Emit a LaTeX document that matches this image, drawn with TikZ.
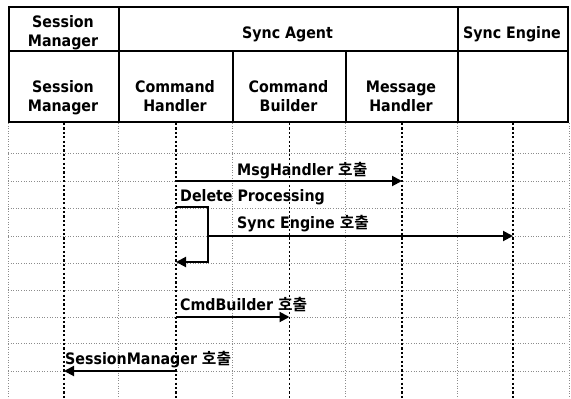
\documentclass[tikz,border=0pt]{standalone}
\usepackage{fontspec}
\setmainfont{DejaVu Sans Condensed}
\newfontfamily\kofont{Noto Sans CJK KR}[BoldFont={* Bold}]
\newcommand{\ko}[1]{{\kofont\bfseries #1}}
\usetikzlibrary{arrows.meta}

\begin{document}
\begin{tikzpicture}[x=1pt,y=-1pt,
  every node/.style={font=\fontsize{15.8}{19}\bfseries\selectfont, inner sep=0pt},
  cell/.style={draw=black, line width=2pt, anchor=north west, inner sep=0pt},
  lifeline/.style={black, line width=1.8pt, dash pattern=on 2.2pt off 2.2pt},
  gridline/.style={black!45, line width=0.5pt, dash pattern=on 0.8pt off 1.8pt},
  msg/.style={black, line width=2pt, -{Triangle[length=10pt,width=10pt]}},
  lbl/.style={anchor=base west}]
\useasboundingbox (0,0) rectangle (571,399);

% header, first row: groups
\node[cell, minimum width=110pt, minimum height=44pt] (hSM) at (8,6) {};
\node[cell, minimum width=339pt, minimum height=44pt] (hSA) at (118,6) {};
\node[cell, minimum width=110pt, minimum height=44pt] (hSE) at (457,6) {};

% header, second row: components
\node[cell, minimum width=110pt, minimum height=71pt] (cSM) at (8,50) {};
\node[cell, minimum width=114pt, minimum height=71pt] (cCH) at (118,50) {};
\node[cell, minimum width=113pt, minimum height=71pt] (cCB) at (232,50) {};
\node[cell, minimum width=112pt, minimum height=71pt] (cMH) at (345,50) {};
\node[cell, minimum width=110pt, minimum height=71pt] (cSE) at (457,50) {};

% header texts
\node[align=center] (tSM1) at (63,33.5) {Session\strut\\Manager\strut};
\node[anchor=base] (tSA) at (287.5,38) {Sync Agent};
\node[anchor=base] (tSE) at (512,38) {Sync Engine};
\node[align=center] (tSM2) at (63,98) {Session\strut\\Manager\strut};
\node[align=center] (tCH) at (175,98) {Command\strut\\Handler\strut};
\node[align=center] (tCB) at (288.5,98) {Command\strut\\Builder\strut};
\node[align=center] (tMH) at (401,98) {Message\strut\\Handler\strut};

% bottom edge and message rows
\coordinate (bot) at (0,399);
\coordinate (r1) at (0,181);
\coordinate (r2) at (0,207);
\coordinate (r3) at (0,236);
\coordinate (r4) at (0,262);
\coordinate (r5) at (0,317);
\coordinate (r6) at (0,371);

% fine background grid
\foreach \c in {cSM,cCH,cCB,cMH,cSE}
  \draw[gridline] (\c.south west) -- (\c.south west |- bot);
\draw[gridline] (cSE.south east) -- (cSE.south east |- bot);
\foreach \y in {153,181,208,236,263,290,317,343,371}
  \draw[gridline] (8,\y) -- (567,\y);

% lifelines
\foreach \c in {cSM,cCH,cCB,cMH,cSE}
  \draw[lifeline] (\c.south) -- (\c.south |- bot);

% messages
\draw[msg] (cCH.south |- r1) -- (cMH.south |- r1);
\node[lbl] (l1) at (237,175) {MsgHandler \ko{호출}};

\coordinate (actTop) at (208,207);
\coordinate (actMid) at (208,236);
\coordinate (actBot) at (208,262);
\node[lbl] (l2) at (180,201) {Delete Processing};
\draw[msg] (cCH.south |- r2) -- (actTop) -- (actBot) -- (cCH.south |- r4);

\draw[msg] (actMid) -- (cSE.south |- r3);
\node[lbl] (l3) at (237,228) {Sync Engine \ko{호출}};

\draw[msg] (cCH.south |- r5) -- (cCB.south |- r5);
\node[lbl] (l4) at (180,310) {CmdBuilder \ko{호출}};

\draw[msg] (cCH.south |- r6) -- (cSM.south |- r6);
\node[lbl] (l5) at (65,364) {SessionManager \ko{호출}};
\end{tikzpicture}
\end{document}
